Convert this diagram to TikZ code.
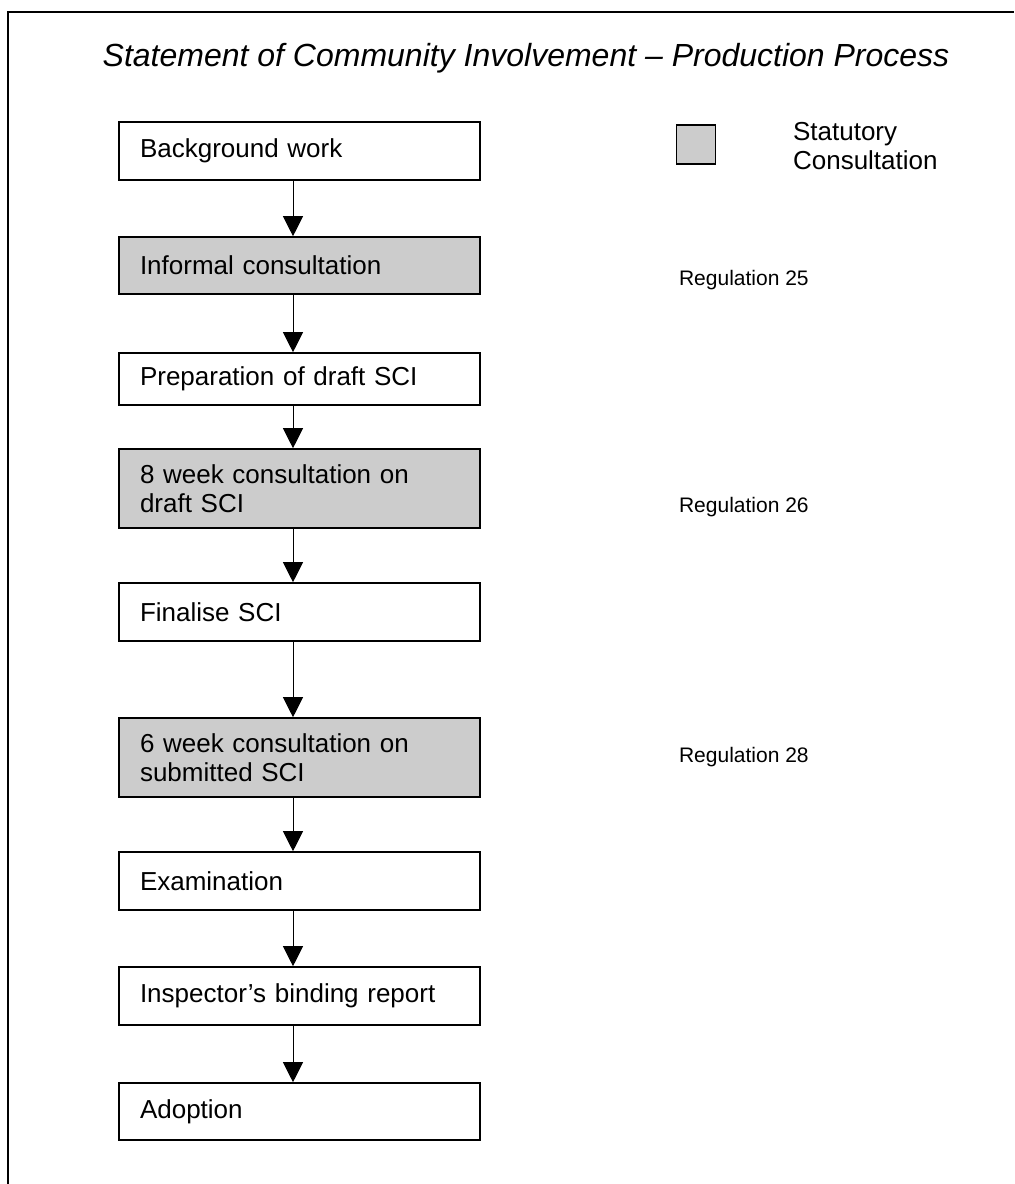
\documentclass[tikz,border=0pt]{standalone}
\usepackage{fontspec}
\setmainfont{Liberation Sans}
\usetikzlibrary{arrows.meta}

\begin{document}
\begin{tikzpicture}[x=0.5pt,y=-0.5pt,
  stage/.style={draw,line width=0.8pt,rectangle,minimum width=180.5pt,text width=159.5pt,inner xsep=10.5pt,align=left,font=\fontsize{13}{14.5}\selectfont},
  statutory/.style={stage,fill=black!20},
  flow/.style={line width=0.5pt,-{Triangle[width=10pt,length=10pt]}},
  regtext/.style={anchor=west,font=\fontsize{10.5}{12}\selectfont}]
\useasboundingbox (0,0) rectangle (1014,1184);
\draw [line width=0.6pt] (8,1184) -- (8,12) -- (1014,12);
\node (title) at(526,58) {\fontsize{16}{18}\selectfont\itshape Statement of Community Involvement -- Production Process};
\node (bg) [stage,minimum height=29pt] at(299.5,151) {Background work};
\node (inf) [statutory,minimum height=28.5pt] at(299.5,265.5) {Informal consultation};
\node (prep) [stage,minimum height=26pt] at(299.5,379) {Preparation of draft SCI};
\node (eight) [statutory,minimum height=39.5pt] at(299.5,488.5) {8 week consultation on\\draft SCI};
\node (fin) [stage,minimum height=29pt] at(299.5,612) {Finalise SCI};
\node (six) [statutory,minimum height=39.5pt] at(299.5,757.5) {6 week consultation on\\submitted SCI};
\node (exam) [stage,minimum height=29pt] at(299.5,881) {Examination};
\node (insp) [stage,minimum height=29pt] at(299.5,996) {Inspector’s binding report};
\node (adopt) [stage,minimum height=28.5pt] at(299.5,1111.5) {Adoption};
\coordinate (ax) at(293,0);
\draw [flow] (bg.south -| ax) -- (inf.north -| ax);
\draw [flow] (inf.south -| ax) -- (prep.north -| ax);
\draw [flow] (prep.south -| ax) -- (eight.north -| ax);
\draw [flow] (eight.south -| ax) -- (fin.north -| ax);
\draw [flow] (fin.south -| ax) -- (six.north -| ax);
\draw [flow] (six.south -| ax) -- (exam.north -| ax);
\draw [flow] (exam.south -| ax) -- (insp.north -| ax);
\draw [flow] (insp.south -| ax) -- (adopt.north -| ax);
% key
\node (key) [draw,line width=0.8pt,fill=black!20,minimum size=19.5pt,inner sep=0pt] at(696,144.5) {};
\node (keytext) [anchor=west,align=left,font=\fontsize{13}{14.5}\selectfont] at(786,146) {Statutory\\Consultation};
\node (reg25) [regtext] at(672,280) {Regulation 25};
\node (reg26) [regtext] at(672,507) {Regulation 26};
\node (reg28) [regtext] at(672,757) {Regulation 28};
\end{tikzpicture}
\end{document}
